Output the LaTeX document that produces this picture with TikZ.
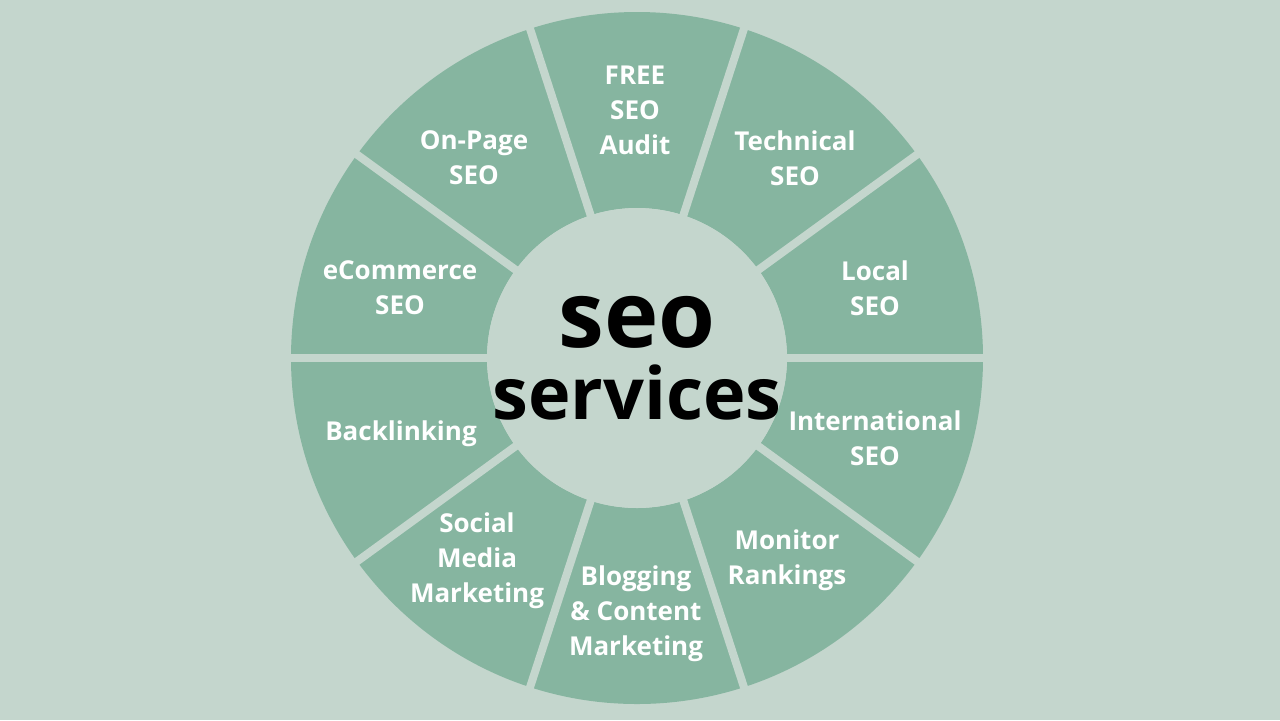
\documentclass[tikz,border=0pt]{standalone}
\usepackage{fontspec}
\setmainfont{Open Sans}
\definecolor{bgcol}{RGB}{196,214,205}
\definecolor{segcol}{RGB}{134,181,160}
\begin{document}
\begin{tikzpicture}[x=0.5pt,y=-0.5pt,
  seglabel/.style={align=center,text=white,font=\bfseries\fontsize{13}{17.5}\selectfont,inner sep=0.75pt}]
%background
\fill [bgcol] (0,0) rectangle (1280,720);
\useasboundingbox (0,0) rectangle (1280,720);
%Shape: ring
\coordinate (c) at (637,358);
\fill [segcol,even odd rule] (c) circle [radius=173pt] (c) circle [radius=75pt];
%Straight Lines: gaps
\foreach \a in {0,36,...,324}
  \draw [bgcol,line width=4pt] (c) ++(\a:74pt) -- ++(\a:102pt);
%Shape: inner circle
\fill [bgcol] (c) circle [radius=75pt];

% Text Node
\node [seglabel] (audit) at (635,110) {FREE\\SEO\\Audit};
\node [seglabel] (tech) at (795,158) {Technical\\SEO};
\node [seglabel] (local) at (875,288) {Local\\SEO};
\node [seglabel] (intl) at (875,438) {International\\SEO};
\node [seglabel] (rank) at (787,560) {Monitor\\Rankings};
\node [seglabel] (blog) at (636,614) {Blogging\\\& Content\\Marketing};
\node [seglabel] (social) at (477,561) {Social\\Media\\Marketing};
\node [seglabel] (back) at (401,434) {Backlinking};
\node [seglabel] (ecom) at (400,288) {eCommerce\\SEO};
\node [seglabel] (onpage) at (474,158) {On-Page\\SEO};
\node [font=\bfseries\fontsize{46}{46}\selectfont,inner sep=0pt] (seo) at (637,322) {seo};
\node [font=\bfseries\fontsize{36}{36}\selectfont,inner sep=0pt] (serv) at (637,392) {services};
\end{tikzpicture}
\end{document}
